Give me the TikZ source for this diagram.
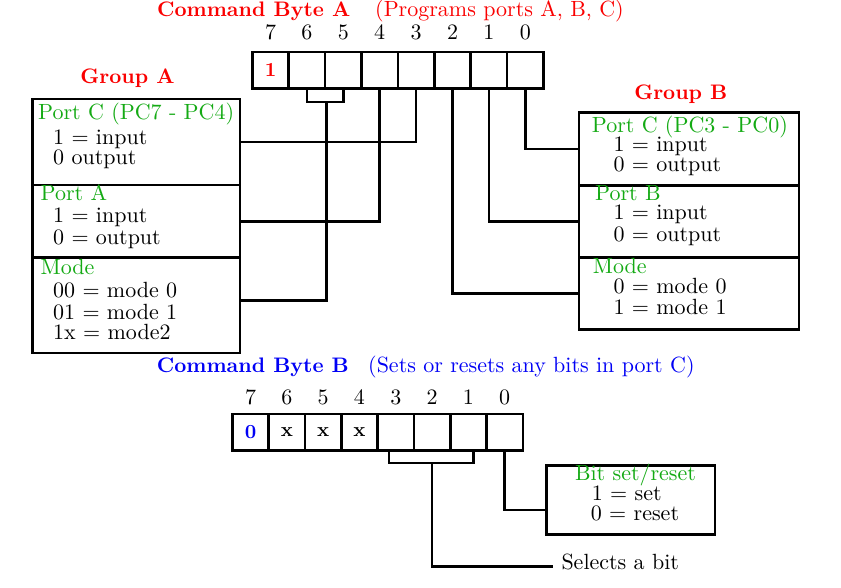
\documentclass[tikz,border=0pt]{standalone}
\usepackage{fontspec}
\setmainfont{lmroman10}[Extension=.otf, UprightFont=*-regular, BoldFont=*-bold, ItalicFont=*-italic]
\usepackage{tikz}
\usepackage{xcolor}
\definecolor{portgreen}{RGB}{20,170,20}
\definecolor{titlered}{RGB}{250,0,0}
\definecolor{titleblue}{RGB}{0,0,245}

\begin{document}
\begin{tikzpicture}[x=1pt, y=-1pt, font=\fontsize{22}{24}\selectfont,
    cell/.style={draw, line width=2.7pt, minimum width=36.4pt, minimum height=36.5pt, inner sep=0pt},
    grpbox/.style={draw, line width=2.9pt, inner sep=0pt},
    txt/.style={anchor=west, inner sep=0pt, text height=1.5ex, text depth=0.25ex},
    num/.style={inner sep=0pt, text height=1.5ex, text depth=0.25ex},
    head/.style={inner sep=0pt, text height=1.5ex, text depth=0.25ex, font=\fontsize{21}{24}\selectfont\bfseries},
    bitval/.style={font=\fontsize{20}{24}\selectfont\bfseries},
    wire/.style={line width=2.5pt}]
    \useasboundingbox (0,0) rectangle (841,587);

		\node[head, anchor=west, text=titlered] (titlea) at (157,13.5) {Command Byte A};
		\node[txt, text=titlered] (desca) at (375,13.5) {(Programs ports A, B, C)};

		\node[num] (na7) at (270.5,37) {7};
		\node[num] (na6) at (306.9,37) {6};
		\node[num] (na5) at (343.3,37) {5};
		\node[num] (na4) at (379.7,37) {4};
		\node[num] (na3) at (416.1,37) {3};
		\node[num] (na2) at (452.5,37) {2};
		\node[num] (na1) at (488.9,37) {1};
		\node[num] (na0) at (525.3,37) {0};

		\node[cell, bitval, text=titlered] (a7) at (270.5,70.2) {1};
		\node[cell] (a6) at (306.9,70.2) {};
		\node[cell] (a5) at (343.3,70.2) {};
		\node[cell] (a4) at (379.7,70.2) {};
		\node[cell] (a3) at (416.1,70.2) {};
		\node[cell] (a2) at (452.5,70.2) {};
		\node[cell] (a1) at (488.9,70.2) {};
		\node[cell] (a0) at (525.3,70.2) {};

		\node[head, text=titlered] (groupa) at (127.5,80.7) {Group A};
		\node[head, text=titlered] (groupb) at (680.8,96.7) {Group B};

		\node[grpbox, minimum width=207.3pt, minimum height=86pt] (gaportc) at (136.35,142) {};
		\node[grpbox, minimum width=207.3pt, minimum height=72.7pt] (gaporta) at (136.35,221.35) {};
		\node[grpbox, minimum width=207.3pt, minimum height=95.3pt] (gamode) at (136.35,305.35) {};
		\node[txt, text=portgreen] (gactitle) at (38,116.7) {Port C (PC7 - PC4)};
		\node[txt] (gacin) at (53,141.7) {1 = input};
		\node[txt] (gacout) at (53,161.7) {0 output};
		\node[txt, text=portgreen] (gaatitle) at (40.5,198) {Port A};
		\node[txt] (gaain) at (53,220) {1 = input};
		\node[txt] (gaaout) at (53,241.7) {0 = output};
		\node[txt, text=portgreen] (gamtitle) at (40.5,271.7) {Mode};
		\node[txt] (gamzero) at (53,295) {00 = mode 0};
		\node[txt] (gamone) at (53,316.7) {01 = mode 1};
		\node[txt] (gamtwo) at (53,336.7) {1x = mode2};

		\node[grpbox, minimum width=220pt, minimum height=72.6pt] (gbportc) at (689,149) {};
		\node[grpbox, minimum width=220pt, minimum height=72.4pt] (gbportb) at (689,221.5) {};
		\node[grpbox, minimum width=220pt, minimum height=71.6pt] (gbmode) at (689,293.5) {};
		\node[txt, text=portgreen] (gbctitle) at (591.7,129.5) {Port C (PC3 - PC0)};
		\node[txt] (gbcin) at (613.3,149.3) {1 = input};
		\node[txt] (gbcout) at (613.3,169.3) {0 = output};
		\node[txt, text=portgreen] (gbbtitle) at (595,198.3) {Port B};
		\node[txt] (gbbin) at (613.3,217.3) {1 = input};
		\node[txt] (gbbout) at (613.3,239.3) {0 = output};
		\node[txt, text=portgreen] (gbmtitle) at (592.7,271.2) {Mode};
		\node[txt] (gbmzero) at (613.3,290.5) {0 = mode 0};
		\node[txt] (gbmone) at (613.3,311.7) {1 = mode 1};

		\draw[wire] (a6.south) -- ++(0,12) -| (a5.south);
		\draw[wire] ([yshift=-12pt]a6.south east) |- ([yshift=5pt]gamode.east);
		\draw[wire] (a4.south) |- (gaporta.east);
		\draw[wire] (a3.south) |- (gaportc.east);
		\draw[wire] (a2.south) |- (gbmode.west);
		\draw[wire] (a1.south) |- (gbportb.west);
		\draw[wire] (a0.south) |- (gbportc.west);

		\node[head, anchor=west, text=titleblue] (titleb) at (156.7,370) {Command Byte B};
		\node[txt, text=titleblue] (descb) at (368,370) {(Sets or resets any bits in port C)};

		\node[num] (nb7) at (250.55,401.7) {7};
		\node[num] (nb6) at (286.85,401.7) {6};
		\node[num] (nb5) at (323.15,401.7) {5};
		\node[num] (nb4) at (359.45,401.7) {4};
		\node[num] (nb3) at (395.75,401.7) {3};
		\node[num] (nb2) at (432.05,401.7) {2};
		\node[num] (nb1) at (468.35,401.7) {1};
		\node[num] (nb0) at (504.65,401.7) {0};

		\node[cell, bitval, text=titleblue] (b7) at (250.55,432.35) {0};
		\node[cell, bitval] (b6) at (286.85,432.35) {x};
		\node[cell, bitval] (b5) at (323.15,432.35) {x};
		\node[cell, bitval] (b4) at (359.45,432.35) {x};
		\node[cell] (b3) at (395.75,432.35) {};
		\node[cell] (b2) at (432.05,432.35) {};
		\node[cell] (b1) at (468.35,432.35) {};
		\node[cell] (b0) at (504.65,432.35) {};

		\node[grpbox, minimum width=168.3pt, minimum height=68.6pt] (bitbox) at (630.85,500) {};
		\node[num, text=portgreen] (bittitle) at (635.5,478) {Bit set/reset};
		\node[txt] (bitset) at (591.7,498) {1 = set};
		\node[txt] (bitreset) at (590.7,518) {0 = reset};
		\node[txt, inner xsep=8pt] (selbit) at (553.3,566.7) {Selects a bit};

		\draw[wire] ([xshift=-7pt]b3.south) -- ++(0,11) -| ([xshift=5pt]b1.south);
		\draw[wire] ([yshift=-11pt]b2.south) |- (selbit.west);
		\draw[wire] (b0.south) |- ([yshift=-10pt]bitbox.west);
\end{tikzpicture}
\end{document}
